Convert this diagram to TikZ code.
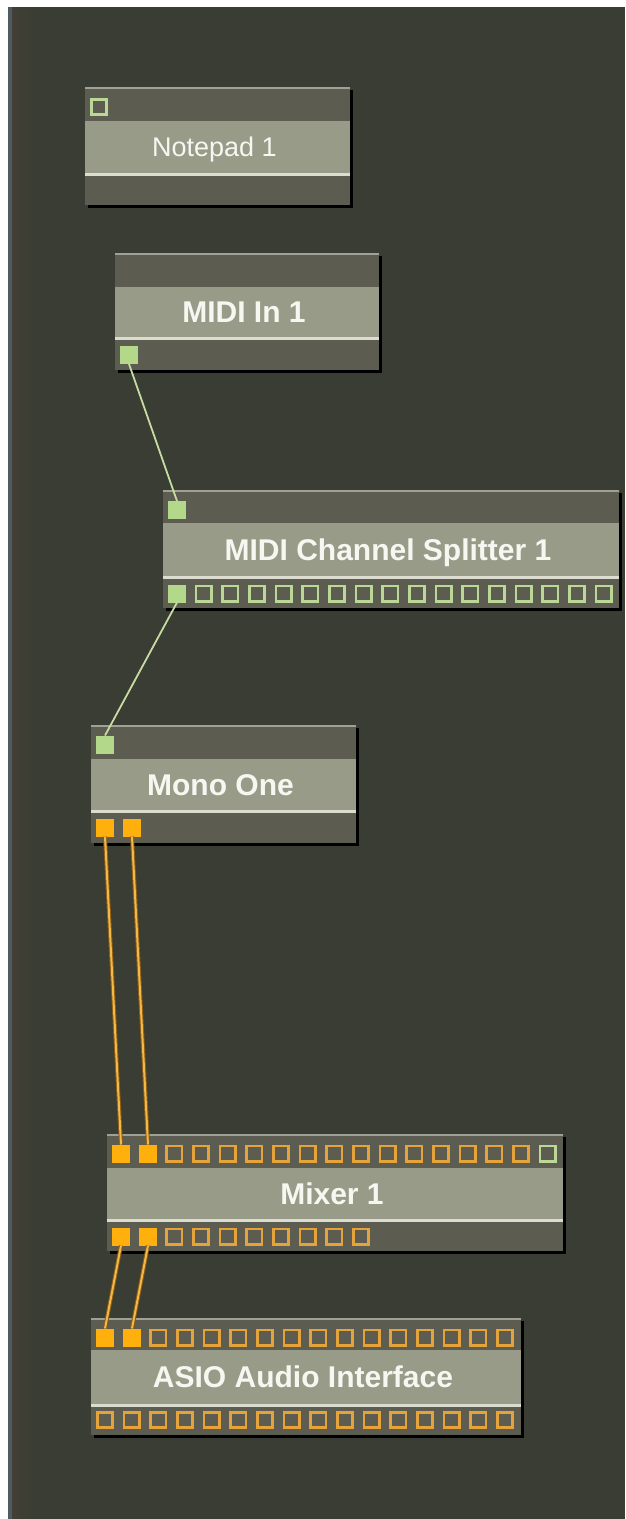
\documentclass[tikz,border=0pt]{standalone}
\usepackage{fontspec}
\setmainfont{Liberation Sans}
\definecolor{bg}{HTML}{393D33}
\definecolor{hdr}{HTML}{5C5D50}
\definecolor{band}{HTML}{999B89}
\definecolor{sepc}{HTML}{DCDDD0}
\definecolor{edgec}{HTML}{A0A194}
\definecolor{gfill}{HTML}{B4D88A}
\definecolor{gline}{HTML}{BBD896}
\definecolor{ofill}{HTML}{FFB00C}
\definecolor{oline}{HTML}{E6A33A}
\definecolor{txt}{HTML}{F7F7F2}
\definecolor{mwire}{HTML}{C7DCA3}
\definecolor{awire}{HTML}{F2B84A}
\definecolor{awdark}{HTML}{8C5A12}
\definecolor{stripeb}{HTML}{4F5A63}
\definecolor{stripec}{HTML}{423F36}
\newcommand\modbox[6]{%
  \fill[black] (#1+3,#2+3) rectangle (#3+3,#4+3);
  \fill[hdr] (#1,#2) rectangle (#3,#4);
  \fill[edgec] (#1,#2) rectangle (#3,#2+2);
  \fill[band] (#1,#5) rectangle (#3,#6);
  \fill[sepc] (#1,#6) rectangle (#3,#6+3);
}
\tikzset{
  title/.style={text=txt, inner sep=0pt, text height=21.5pt, text depth=0pt,
    font=\fontsize{30}{33}\selectfont\bfseries},
  titlereg/.style={text=txt, inner sep=0pt, text height=19.5pt, text depth=0pt,
    font=\fontsize{27}{30}\selectfont},
  gport/.style={fill=gfill, minimum size=18pt, inner sep=0pt, outer sep=0pt},
  gopen/.style={draw=gline, line width=2.6pt, fill=hdr, minimum size=15.4pt, inner sep=0pt, outer sep=1.3pt},
  oport/.style={fill=ofill, minimum size=18pt, inner sep=0pt, outer sep=0pt},
  oopen/.style={draw=oline, line width=2.6pt, fill=hdr, minimum size=15.4pt, inner sep=0pt, outer sep=1.3pt},
  midiwire/.style={draw=mwire, line width=1.8pt},
  audiounder/.style={draw=awdark, line width=4pt},
  audiowire/.style={draw=awire, line width=2pt},
}
\begin{document}
\begin{tikzpicture}[x=1pt,y=-1pt]
\useasboundingbox (0,0) rectangle (625,1519);
\fill[white] (0,0) rectangle (625,1519);
\fill[bg] (8,7) rectangle (625,1519);
\fill[stripeb] (8,7) rectangle (11.5,1519);
\shade[left color=stripec, right color=bg] (12,7) rectangle (36,1519);

% Notepad 1
\modbox{85}{87}{350}{205}{121}{173}
\node[titlereg] (np) at (214.5,147) {Notepad 1};
\node[gopen] (np-i1) at (99,107) {};

% MIDI In 1
\modbox{115}{253}{379}{370}{287}{337}
\node[title] (mi) at (244,312) {MIDI In 1};
\node[gport] (mi-o1) at (129,355) {};

% MIDI Channel Splitter 1
\modbox{163}{490}{619}{608}{523}{576}
\node[title] (sp) at (388,549.5) {MIDI Channel Splitter 1};
\node[gport] (sp-i1) at (177,510) {};
\node[gport] (sp-o1) at (177,593.5) {};
\foreach \i in {2,...,17} \node[gopen] (sp-o\i) at ({177+(\i-1)*26.67},593.5) {};

% Mono One
\modbox{91}{725}{356}{843}{759}{810}
\node[title] (mo) at (220.5,784.5) {Mono One};
\node[gport] (mo-i1) at (105,744.5) {};
\node[oport] (mo-o1) at (105,827.5) {};
\node[oport] (mo-o2) at (132,827.5) {};

% Mixer 1
\modbox{107}{1134}{563}{1251}{1168}{1219}
\node[title] (mx) at (332,1193.5) {Mixer 1};
\node[oport] (mx-i1) at (121,1153.5) {};
\node[oport] (mx-i2) at (148,1153.5) {};
\foreach \i in {3,...,16} \node[oopen] (mx-i\i) at ({121+(\i-1)*26.67},1153.5) {};
\node[gopen] (mx-i17) at ({121+16*26.67},1153.5) {};
\node[oport] (mx-o1) at (121,1236.5) {};
\node[oport] (mx-o2) at (148,1236.5) {};
\foreach \i in {3,...,10} \node[oopen] (mx-o\i) at ({121+(\i-1)*26.67},1236.5) {};

% ASIO Audio Interface
\modbox{91}{1318}{521}{1435}{1350}{1404}
\node[title] (as) at (303,1377) {ASIO Audio Interface};
\node[oport] (as-i1) at (105,1337.5) {};
\node[oport] (as-i2) at (132,1337.5) {};
\foreach \i in {3,...,16} \node[oopen] (as-i\i) at ({105+(\i-1)*26.67},1337.5) {};
\foreach \i in {1,...,16} \node[oopen] (as-o\i) at ({105+(\i-1)*26.67},1420) {};

% connectors
\draw[midiwire] (mi-o1.south) -- (sp-i1.north);
\draw[midiwire] (sp-o1.south) -- (mo-i1.north);
\draw[audiounder] (mo-o1.south) -- (mx-i1.north);
\draw[audiounder] (mo-o2.south) -- (mx-i2.north);
\draw[audiounder] (mx-o1.south) -- (as-i1.north);
\draw[audiounder] (mx-o2.south) -- (as-i2.north);
\draw[audiowire] (mo-o1.south) -- (mx-i1.north);
\draw[audiowire] (mo-o2.south) -- (mx-i2.north);
\draw[audiowire] (mx-o1.south) -- (as-i1.north);
\draw[audiowire] (mx-o2.south) -- (as-i2.north);
\end{tikzpicture}
\end{document}
